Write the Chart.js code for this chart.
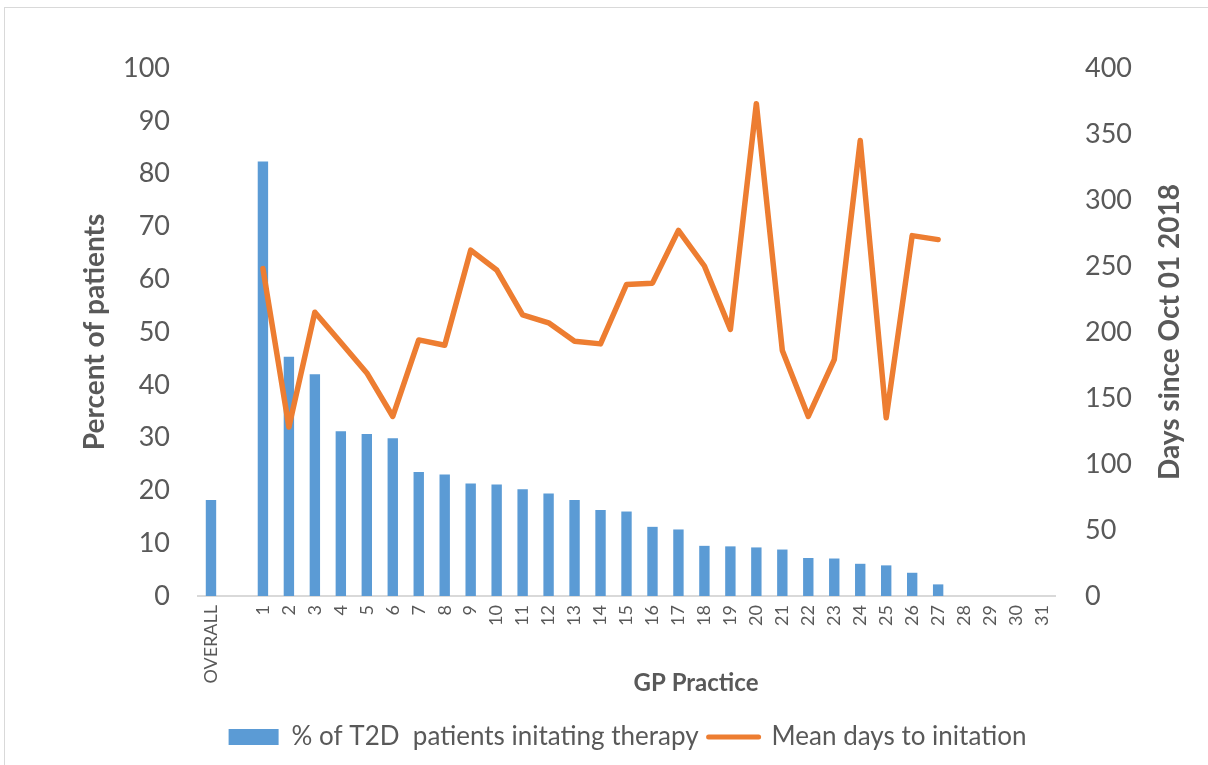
<!DOCTYPE html>
<html>
<head>
<meta charset="utf-8">
<script src="https://cdn.jsdelivr.net/npm/chart.js@4"></script>
<style>
  html, body { margin: 0; padding: 0; background: #ffffff; overflow: hidden; }
  #frame { position: absolute; left: 4px; top: 7px; width: 1300px; height: 900px;
           border-left: 1px solid #d9d9d9; border-top: 1px solid #d9d9d9; }
  #wrap { position: absolute; left: 0; top: 0; width: 1208px; height: 765px; }
</style>
</head>
<body>
<div id="frame"></div>
<div id="wrap"><canvas id="chart" width="1208" height="765"></canvas></div>
<script>
// Practice labels: the overall figure, a spacer slot, then practices 1-31
const categories = ['OVERALL', ''].concat(Array.from({length: 31}, (_, i) => String(i + 1)));

// % of T2D patients initiating therapy (left axis)
const pctInitiating = [18.2, null,
  82.3, 45.3, 42.0, 31.2, 30.7, 29.9, 23.5, 23.0, 21.3, 21.1,
  20.2, 19.4, 18.2, 16.3, 16.0, 13.1, 12.6, 9.5, 9.4, 9.2,
  8.8, 7.2, 7.1, 6.1, 5.8, 4.4, 2.2,
  null, null, null, null];

// Mean days to initiation, counted from 1 Oct 2018 (right axis)
const meanDays = [null, null,
  248, 128, 215, 192, 169, 136, 194, 190, 262, 247,
  213, 207, 193, 191, 236, 237, 277, 250, 202, 373,
  186, 136, 179, 345, 135, 273, 270,
  null, null, null, null];

const leftTicks = { min: 0, max: 100, step: 10 };
const rightTicks = { min: 0, max: 400, step: 50 };

const seriesNames = ['% of T2D  patients initating therapy', 'Mean days to initation'];
const axisTitles = { x: 'GP Practice', left: 'Percent of patients', right: 'Days since Oct 01 2018' };

const BLUE = '#5b9bd5';
const ORANGE = '#ed7d31';
const TEXT = '#595959';
const FONT = 'Lato, "Open Sans", sans-serif';

// Axis titles drawn by hand: the right one reads bottom-to-top like the left,
// and the x title sits right of the plot centre
const extraTitlesPlugin = {
  id: 'extraTitles',
  afterDraw(chart) {
    const { ctx, chartArea } = chart;
    ctx.save();
    ctx.fillStyle = TEXT;
    ctx.textAlign = 'center';
    ctx.textBaseline = 'middle';

    ctx.font = 'bold 24px ' + FONT;
    ctx.fillText(axisTitles.x, 696, 683);

    ctx.translate(1170, (chartArea.top + chartArea.bottom) / 2);
    ctx.rotate(-Math.PI / 2);
    ctx.font = 'bold 28px ' + FONT;
    ctx.fillText(axisTitles.right, 0, 0);
    ctx.restore();
  }
};

new Chart(document.getElementById('chart'), {
  type: 'bar',
  data: {
    labels: categories,
    datasets: [
      {
        type: 'line',
        label: seriesNames[1],
        data: meanDays,
        yAxisID: 'y1',
        borderColor: ORANGE,
        backgroundColor: ORANGE,
        borderWidth: 5.5,
        borderCapStyle: 'round',
        borderJoinStyle: 'round',
        pointRadius: 0,
        pointHoverRadius: 0,
        tension: 0,
        spanGaps: false,
        order: 0
      },
      {
        type: 'bar',
        label: seriesNames[0],
        data: pctInitiating,
        yAxisID: 'y',
        backgroundColor: BLUE,
        borderWidth: 0,
        categoryPercentage: 1.0,
        barPercentage: 0.4,
        order: 1
      }
    ]
  },
  options: {
    responsive: false,
    animation: false,
    devicePixelRatio: 1,
    layout: { padding: { left: 70, right: 23, top: 68, bottom: 5 } },
    plugins: {
      tooltip: { enabled: false },
      legend: {
        position: 'bottom',
        labels: {
          color: TEXT,
          font: { family: FONT, size: 26 },
          usePointStyle: true,
          pointStyleWidth: 50,
          boxHeight: 16,
          padding: 10,
          generateLabels() {
            return [
              { text: seriesNames[0], fillStyle: BLUE, strokeStyle: BLUE, lineWidth: 0,
                pointStyle: 'rect', datasetIndex: 1, fontColor: TEXT },
              { text: seriesNames[1], fillStyle: ORANGE, strokeStyle: ORANGE, lineWidth: 5,
                lineCap: 'round', pointStyle: 'line', datasetIndex: 0, fontColor: TEXT }
            ];
          }
        }
      }
    },
    scales: {
      x: {
        grid: { display: false, drawTicks: false },
        border: { display: true, color: '#d9d9d9', width: 2 },
        ticks: {
          color: TEXT,
          font: { family: FONT, size: 18 },
          minRotation: 90,
          maxRotation: 90,
          autoSkip: false,
          padding: 9
        },
        afterFit(scale) { scale.height = 118; }
      },
      y: {
        position: 'left',
        min: leftTicks.min,
        max: leftTicks.max,
        grid: { display: false, drawTicks: false },
        border: { display: false },
        ticks: {
          stepSize: leftTicks.step,
          color: TEXT,
          font: { family: FONT, size: 27 },
          padding: 28
        },
        title: {
          display: true,
          text: axisTitles.left,
          color: TEXT,
          font: { family: FONT, size: 28, weight: 'bold' },
          padding: { top: 8, bottom: 0 }
        },
        afterFit(scale) { scale.width = 128; }
      },
      y1: {
        position: 'right',
        min: rightTicks.min,
        max: rightTicks.max,
        grid: { display: false, drawTicks: false },
        border: { display: false },
        ticks: {
          stepSize: rightTicks.step,
          color: TEXT,
          font: { family: FONT, size: 27 },
          padding: 30
        },
        afterFit(scale) { scale.width = 130; }
      }
    }
  },
  plugins: [extraTitlesPlugin]
});
</script>
</body>
</html>
